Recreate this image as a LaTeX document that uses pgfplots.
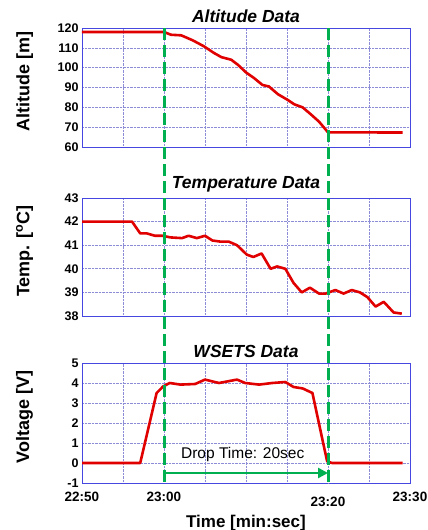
\documentclass[border=0pt]{standalone}
\usepackage{pgfplots}
\pgfplotsset{compat=1.18}
\usepackage{fontspec}
\setmainfont{Liberation Sans}
\usetikzlibrary{arrows.meta}

\definecolor{frameblue}{RGB}{70,70,225}
\definecolor{gridblue}{RGB}{140,140,215}
\definecolor{datared}{RGB}{225,0,0}
\definecolor{dropgreen}{RGB}{0,176,80}

\pgfplotsset{
  panel/.style={
    scale only axis,
    width=328pt,
    xmin=0, xmax=40,
    xtick={0,5,...,40},
    grid=major,
    major grid style={gridblue, densely dotted, line width=0.6pt},
    axis line style={frameblue, line width=0.9pt},
    major tick length=0pt,
    tick label style={font=\fontsize{12.5}{13}\selectfont\bfseries},
    /pgf/number format/assume math mode=true,
    title style={font=\fontsize{17.5}{19}\selectfont\bfseries\itshape, yshift=-4pt},
    ylabel style={at={(axis description cs:-0.175,0.55)}, anchor=center,
                  font=\fontsize{18}{20}\selectfont\bfseries},
    anchor=south west,
  },
  datline/.style={datared, line width=2.6pt, line join=round, no markers},
}

\begin{document}
\begin{tikzpicture}
\useasboundingbox (0pt,0pt) rectangle (428pt,530pt);

% altitude
\begin{axis}[panel, at={(82pt,383pt)}, height=119pt,
  title={Altitude Data}, ylabel={Altitude [m]},
  ymin=60, ymax=120, ytick={60,70,...,120},
  xticklabels={}]
\addplot[datline] coordinates {
(0,118)(10,118)(10.85,116.6)(12.1,116.3)(13.5,113.8)(14.9,110.7)(16.1,107.4)
(17,105.3)(18.2,104)(19,101.5)(20,97.6)(21,94.7)(22,91.3)(22.8,90.5)
(23.9,86.6)(25.1,83.7)(25.9,81.5)(26.9,80)(27.9,76.5)(28.9,72.8)(30,67.4)(39.1,67.3)
};
\coordinate (g1t) at (axis cs:10,120);
\coordinate (g2t) at (axis cs:30,120);
\end{axis}

% temperature
\begin{axis}[panel, at={(82pt,214pt)}, height=118pt,
  title={Temperature Data}, ylabel={Temp. [\textsuperscript{o}C]},
  ymin=38, ymax=43, ytick={38,39,...,43},
  xticklabels={}]
\addplot[datline] coordinates {
(0,42)(6.1,42)(7.1,41.5)(7.9,41.5)(8.9,41.4)(9.8,41.4)(10.8,41.33)(12.2,41.3)
(13,41.4)(14,41.3)(15,41.4)(15.9,41.2)(16.9,41.15)(17.9,41.15)(18.9,41)
(20.1,40.6)(20.9,40.5)(21.9,40.65)(23,40.0)(23.8,40.1)(24.8,40)(25.8,39.4)
(26.8,39)(27.8,39.2)(28.9,38.95)(29.7,38.95)(30.9,39.1)(31.9,38.95)(32.9,39.1)
(33.9,39)(34.8,38.8)(35.8,38.4)(36.8,38.6)(38,38.15)(39,38.1)
};
\end{axis}

% voltage
\begin{axis}[panel, at={(82pt,47pt)}, height=120pt,
  title={WSETS Data}, ylabel={Voltage [V]},
  ymin=-1, ymax=5, ytick={-1,0,...,5},
  xticklabels={22:50,,23:00,,,,,,23:30},
  xticklabel style={font=\fontsize{13.5}{14}\selectfont\bfseries, yshift=-6pt},
  extra x ticks={30},
  extra x tick labels={23:20},
  extra x tick style={xticklabel style={yshift=-5pt}},
  xlabel={Time [min:sec]},
  xlabel style={font=\fontsize{17}{19}\selectfont\bfseries, yshift=-1pt},
  clip=false]
\addplot[datline] coordinates {
(0,0)(7.1,0)(9.1,3.5)(9.9,3.83)(10.7,4.0)(12,3.92)(13.8,3.95)(15,4.17)
(16.7,4.0)(18.9,4.17)(19.9,4.0)(21.6,3.92)(23.2,4.0)(24.8,4.05)(25.8,3.8)
(26.9,3.73)(28.1,3.5)(29.5,0.83)(29.9,0.08)(30.5,0)(39.1,0)
};
\draw[dropgreen, line width=2.8pt, -{Triangle[length=10pt,width=10pt]}]
  (axis cs:10,-0.5) -- (axis cs:30,-0.5);
\node[font=\fontsize{15.5}{17}\selectfont] at (axis cs:19.6,0.45) {Drop Time: 20sec};
\coordinate (g1b) at (axis cs:10,-1);
\coordinate (g2b) at (axis cs:30,-1);
\end{axis}

\draw[dropgreen, line width=3pt, dash pattern=on 12pt off 5pt] (g1t) -- (g1b);
\draw[dropgreen, line width=3pt, dash pattern=on 12pt off 5pt] (g2t) -- (g2b);
\end{tikzpicture}
\end{document}
